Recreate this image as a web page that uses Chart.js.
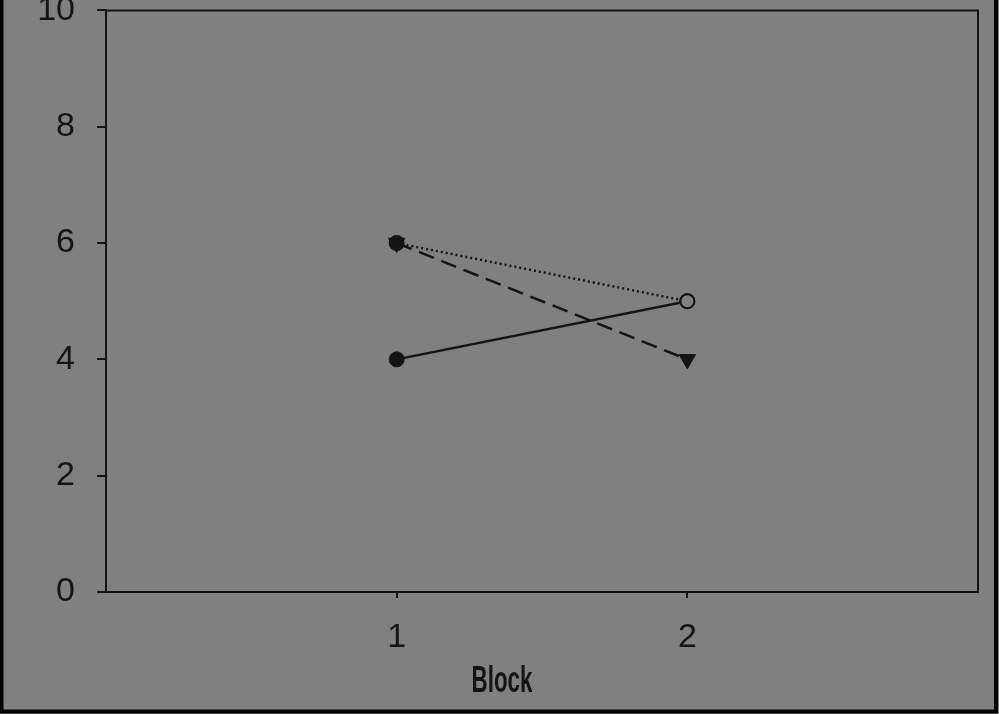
<!DOCTYPE html>
<html>
<head>
<meta charset="utf-8">
<script src="https://cdn.jsdelivr.net/npm/chart.js@4/dist/chart.umd.min.js"></script>
<style>
  html, body { margin: 0; padding: 0; background: #808080; overflow: hidden; }
  #wrap { position: absolute; left: 0; top: -32px; width: 999px; height: 746px; }
</style>
</head>
<body>
<div id="wrap"><canvas id="c" width="999" height="746"></canvas></div>
<script>
// Block numbers on the x axis
const blocks = [1, 2];
// Mean scores per block for the three conditions
const dottedSeries = [6, 5];
const solidSeries = [4, 5];
const dashedSeries = [6, 4];
// Axis ticks
const yTicks = [0, 2, 4, 6, 8, 10];
const xTicks = [1, 2];
const xTitle = 'Block';

const BG = '#808080';
const INK = '#141414';

const pts = vals => blocks.map((b, i) => ({ x: b, y: vals[i] }));

// Plot frame (top/right), outer figure border and the condensed axis title
const framePlugin = {
  id: 'frame',
  afterDraw(chart) {
    const { ctx, chartArea: a, width, height } = chart;
    ctx.save();
    ctx.strokeStyle = INK;
    ctx.lineWidth = 2;
    ctx.beginPath();
    ctx.moveTo(a.left, a.top);
    ctx.lineTo(a.right, a.top);
    ctx.lineTo(a.right, a.bottom);
    ctx.stroke();

    ctx.strokeStyle = '#050505';
    ctx.lineWidth = 4;
    ctx.beginPath();
    ctx.moveTo(1.5, 0);
    ctx.lineTo(1.5, height - 2.5);
    ctx.lineTo(width - 3, height - 2.5);
    ctx.lineTo(width - 3, 0);
    ctx.stroke();

    ctx.fillStyle = INK;
    ctx.font = 'bold 36px "Liberation Sans", Arial, sans-serif';
    ctx.textAlign = 'center';
    ctx.textBaseline = 'alphabetic';
    ctx.translate(502, a.bottom + 100);
    ctx.scale(0.62, 1);
    ctx.fillText(xTitle, 0, 0);
    ctx.restore();
  }
};

new Chart(document.getElementById('c'), {
  type: 'line',
  data: {
    datasets: [
      {
        label: 'dotted',
        data: pts(dottedSeries),
        borderColor: INK,
        borderWidth: 2.5,
        borderDash: [2, 3],
        pointStyle: 'circle',
        pointRadius: 7,
        pointBorderWidth: 2,
        pointBorderColor: INK,
        pointBackgroundColor: [INK, BG]
      },
      {
        label: 'solid',
        data: pts(solidSeries),
        borderColor: INK,
        borderWidth: 2.5,
        pointStyle: 'circle',
        pointRadius: 7.5,
        pointBorderWidth: 1,
        pointBorderColor: INK,
        pointBackgroundColor: INK
      },
      {
        label: 'dashed',
        data: pts(dashedSeries),
        borderColor: INK,
        borderWidth: 2.5,
        borderDash: [16, 8],
        pointStyle: 'triangle',
        pointRotation: 180,
        pointRadius: 9.5,
        pointBorderWidth: 1,
        pointBorderColor: INK,
        pointBackgroundColor: INK
      }
    ]
  },
  options: {
    responsive: false,
    animation: false,
    events: [],
    layout: { padding: { top: 38, right: 21, bottom: 0, left: 0 } },
    plugins: { legend: { display: false }, tooltip: { enabled: false } },
    scales: {
      x: {
        type: 'linear',
        min: 0,
        max: 3,
        afterFit: s => { s.height = 122; },
        afterBuildTicks: s => { s.ticks = xTicks.map(v => ({ value: v })); },
        grid: { display: true, drawOnChartArea: false, drawTicks: true, tickLength: 6, color: INK, lineWidth: 2 },
        border: { display: true, color: INK, width: 2 },
        ticks: {
          color: INK,
          padding: 19,
          font: { family: '"Liberation Sans", Arial, sans-serif', size: 34 }
        }
      },
      y: {
        min: 0,
        max: 10,
        afterFit: s => { s.width = 106; },
        afterBuildTicks: s => { s.ticks = yTicks.map(v => ({ value: v })); },
        grid: { display: true, drawOnChartArea: false, drawTicks: true, tickLength: 9, color: INK, lineWidth: 2 },
        border: { display: true, color: INK, width: 2 },
        ticks: {
          color: INK,
          padding: 22,
          font: { family: '"Liberation Sans", Arial, sans-serif', size: 34 }
        }
      }
    }
  },
  plugins: [framePlugin]
});
</script>
</body>
</html>
